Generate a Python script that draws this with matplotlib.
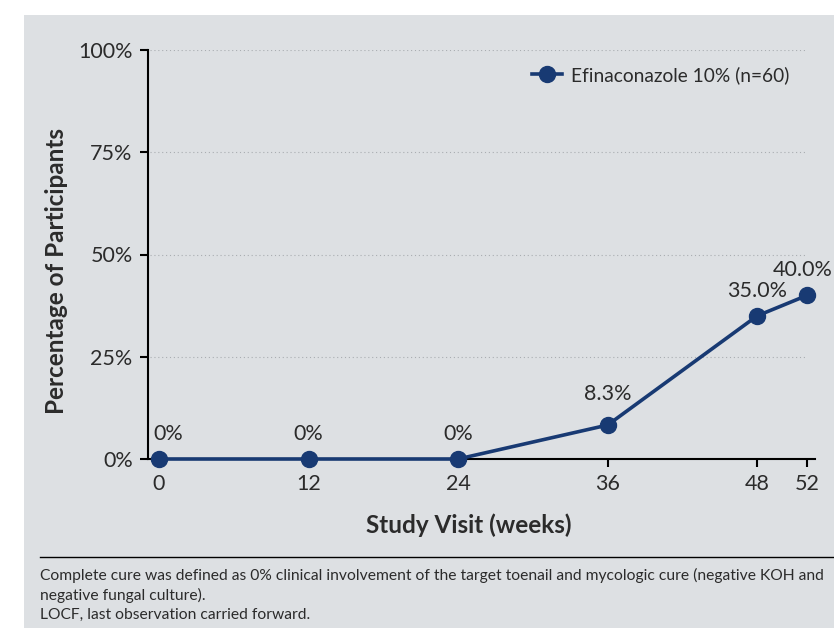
import matplotlib
matplotlib.use("Agg")
import matplotlib.pyplot as plt
from matplotlib.patches import Rectangle
from matplotlib.lines import Line2D

weeks = [0, 12, 24, 36, 48, 52]
cure_pct = [0, 0, 0, 8.3, 35.0, 40.0]
point_labels = ["0%", "0%", "0%", "8.3%", "35.0%", "40.0%"]
yticks = [0, 25, 50, 75, 100]
ytick_labels = ["0%", "25%", "50%", "75%", "100%"]
series_name = "Efinaconazole 10% (n=60)"
footnote = ("Complete cure was defined as 0% clinical involvement of the target toenail and mycologic cure (negative KOH and\n"
            "negative fungal culture).\n"
            "LOCF, last observation carried forward.")

plt.rcParams['font.family'] = ['Lato', 'DejaVu Sans']
navy = "#183a73"
txt = "#2b2b2b"
bg = "#dde0e3"

fig = plt.figure(figsize=(8.34, 6.28), dpi=100)
fig.patches.append(Rectangle((24/834, 0), 1, 1 - 15/628, transform=fig.transFigure,
                             facecolor=bg, edgecolor='none', zorder=-10))

ax = fig.add_axes([148/834, 1 - 459/628, (815 - 148)/834, (459 - 50)/628])
ax.set_facecolor('none')
ax.plot(weeks, cure_pct, color=navy, lw=2.6, marker='o', ms=11.5, zorder=5,
        clip_on=False, label=series_name)
ax.set_xlim(-0.88, 52.64)
ax.set_ylim(0, 100)
ax.set_xticks(weeks)
ax.set_xticklabels([str(w) for w in weeks])
ax.set_yticks(yticks)
ax.set_yticklabels(ytick_labels)
ax.hlines(yticks[1:], -0.7, 51.8, colors="#a9adb1", linestyles=(0, (1, 2.5)), lw=0.8, zorder=1)

for s in ['top', 'right']:
    ax.spines[s].set_visible(False)
for s in ['left', 'bottom']:
    ax.spines[s].set_linewidth(1.5)
    ax.spines[s].set_color('black')
ax.tick_params(axis='both', direction='out', length=6, width=1.5, colors='black',
               labelcolor=txt, labelsize=15.5, pad=5)

for i, (x, y, lab) in enumerate(zip(weeks, cure_pct, point_labels)):
    dx = 6.5 if i == 0 else (-3 if i == len(weeks) - 1 else 0)
    dy = 22 if lab == "8.3%" else 18
    ax.annotate(lab, (x, y), xytext=(dx, dy), textcoords='offset points',
                ha='center', va='center', fontsize=15.5, color=txt, annotation_clip=False, zorder=6)

ax.set_ylabel("Percentage of Participants", fontsize=17.5, fontweight='bold', color=txt)
ax.set_xlabel("Study Visit (weeks)", fontsize=17.5, fontweight='bold', color=txt)
ax.xaxis.set_label_coords((469 - 148) / (815 - 148), -(525 - 459) / (459 - 50))
ax.yaxis.set_label_coords(-(148 - 57) / (815 - 148), (459 - 271) / (459 - 50))
ax.xaxis.label.set_va('center')
ax.yaxis.label.set_va('center')

handle = Line2D([], [], color=navy, lw=2.6, marker='o', ms=11.5)
leg = ax.legend([handle], [series_name], loc='center right',
                bbox_to_anchor=((797 - 148) / 667, (459 - 75) / 409),
                frameon=False, fontsize=13.8, handlelength=1.6, handletextpad=0.45, borderaxespad=0)
for t in leg.get_texts():
    t.set_color(txt)

fig.add_artist(Line2D([40/834, 1], [1 - 557/628, 1 - 557/628], color='black', lw=1.0,
                      transform=fig.transFigure))
fig.text(40/834, 1 - 568/628, footnote, ha='left', va='top', fontsize=11.25, color=txt,
         linespacing=1.42)

fig.savefig("out.png", dpi=100)
